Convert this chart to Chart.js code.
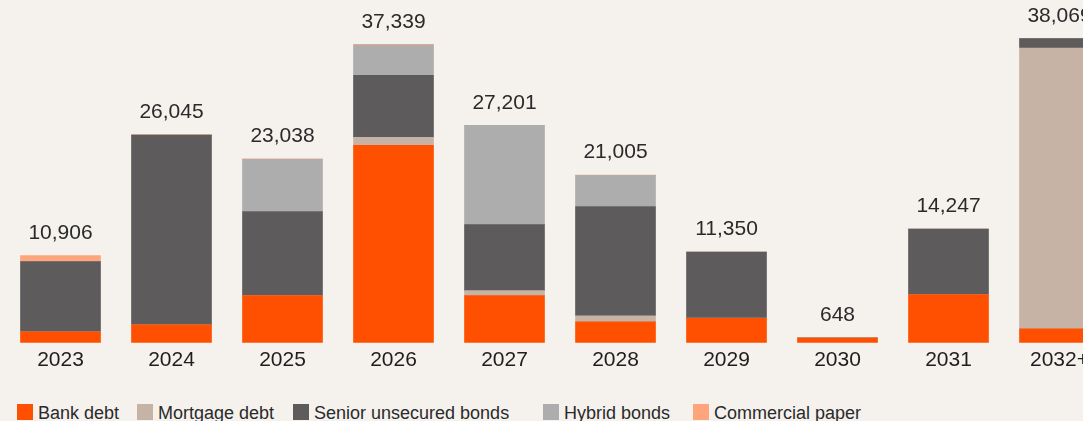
<!DOCTYPE html>
<html lang="en">
<head>
  <meta charset="UTF-8">
  <title>Debt maturity profile</title>
  <script src="https://cdn.jsdelivr.net/npm/chart.js"></script>
  <style>
    body {
      margin: 0;
      padding: 0;
      background-color: #f5f2ee;
      overflow: hidden;
      font-family: "Liberation Sans", Arial, sans-serif;
    }

    .wrap {
      position: relative;
      width: 1083px;
      height: 421px;
      overflow: hidden;
    }

    canvas {
      position: absolute;
      left: 0;
      top: 0;
    }

    .legend-item {
      position: absolute;
      top: 404px;
      display: flex;
      align-items: flex-start;
      font-size: 18px;
      line-height: 18px;
      color: #2a2a2a;
      white-space: nowrap;
    }

    .legend-item span.box {
      width: 16px;
      height: 16px;
      margin-right: 5px;
    }
  </style>
</head>
<body>
  <div class="wrap" id="wrap">
    <canvas id="debtChart" width="1120" height="380"></canvas>
  </div>

  <script>
    // Maturities per year, in millions
    const years = ['2023', '2024', '2025', '2026', '2027', '2028', '2029', '2030', '2031', '2032+'];
    const bankDebt       = [1380, 2257, 5894, 24704, 5894, 2633, 3047, 600, 6019, 1756];
    const mortgageDebt   = [0, 0, 0, 1003, 627, 752, 40, 0, 0, 35112];
    const seniorBonds    = [8776, 23728, 10534, 7775, 8277, 13669, 8263, 0, 8228, 1201];
    const hybridBonds    = [0, 0, 6540, 3782, 12403, 3891, 0, 48, 0, 0];
    const commercialPaper = [750, 60, 70, 75, 0, 60, 0, 0, 0, 0];

    const series = [
      { label: 'Bank debt', data: bankDebt, color: '#fe5000' },
      { label: 'Mortgage debt', data: mortgageDebt, color: '#c6b3a6' },
      { label: 'Senior unsecured bonds', data: seniorBonds, color: '#5d5b5c' },
      { label: 'Hybrid bonds', data: hybridBonds, color: '#aeadad' },
      { label: 'Commercial paper', data: commercialPaper, color: '#fea57c' }
    ];

    // total above each stack
    const totalsPlugin = {
      id: 'totals',
      afterDatasetsDraw(chart) {
        const { ctx, scales } = chart;
        ctx.save();
        ctx.font = '21px "Liberation Sans", Arial, sans-serif';
        ctx.fillStyle = '#2a2a2a';
        ctx.textAlign = 'center';
        ctx.textBaseline = 'middle';
        years.forEach((y, i) => {
          const total = series.reduce((s, d) => s + d.data[i], 0);
          const x = scales.x.getPixelForValue(i);
          const top = scales.y.getPixelForValue(total);
          ctx.fillText(total.toLocaleString('en-US'), x, top - 22.5);
        });
        ctx.restore();
      }
    };

    const ctx = document.getElementById('debtChart').getContext('2d');
    new Chart(ctx, {
      type: 'bar',
      data: {
        labels: years,
        datasets: series.map(s => ({
          label: s.label,
          data: s.data,
          backgroundColor: s.color,
          borderWidth: 0,
          barThickness: 80
        }))
      },
      options: {
        responsive: false,
        animation: false,
        layout: { padding: { left: 5, right: 5, top: 0, bottom: 2 } },
        plugins: {
          legend: { display: false },
          tooltip: { enabled: false }
        },
        scales: {
          x: {
            stacked: true,
            grid: { display: false, drawTicks: false },
            border: { display: false },
            ticks: {
              padding: 5,
              color: '#1e1e1e',
              font: { family: '"Liberation Sans", Arial, sans-serif', size: 21 }
            }
          },
          y: {
            stacked: true,
            display: false,
            min: 0,
            max: 42900
          }
        }
      },
      plugins: [totalsPlugin]
    });

    // legend along the bottom
    const legendLeft = [17, 137, 293, 543, 693];
    const wrap = document.getElementById('wrap');
    series.forEach((s, i) => {
      const item = document.createElement('div');
      item.className = 'legend-item';
      item.style.left = legendLeft[i] + 'px';
      item.innerHTML = '<span class="box" style="background:' + s.color + '"></span><span>' + s.label + '</span>';
      wrap.appendChild(item);
    });
  </script>
</body>
</html>
